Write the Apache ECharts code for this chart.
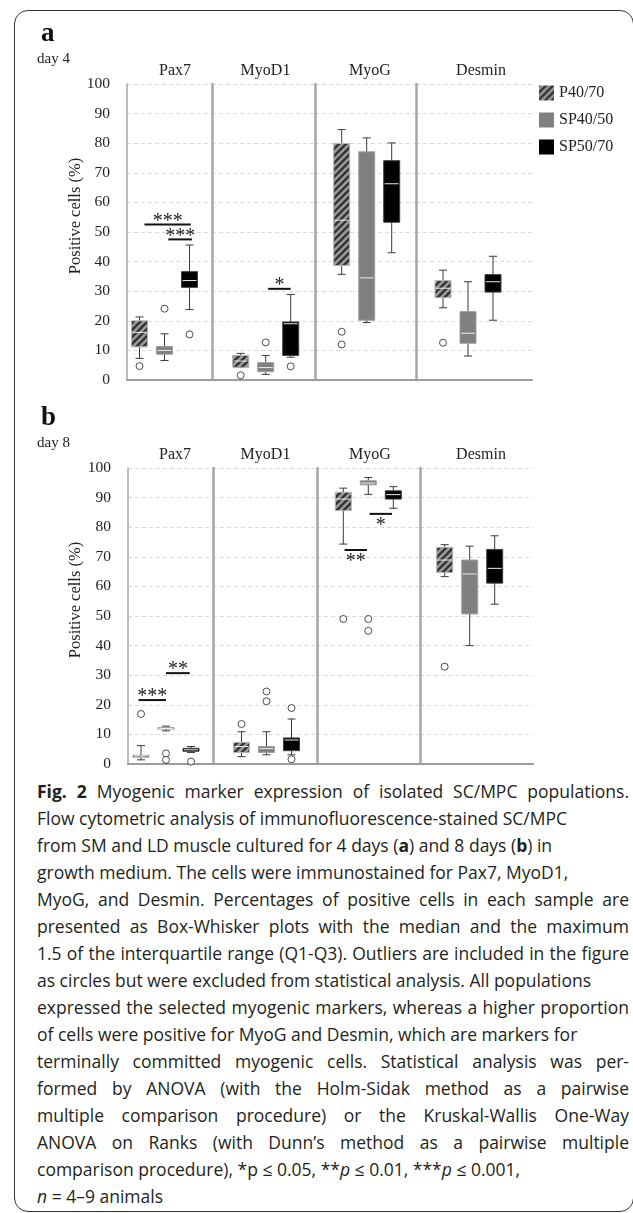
<!DOCTYPE html>
<html>

<head>
    <meta http-equiv="Content-Type" content="text/html; charset=utf-8" />
    <title>Fig. 2</title>
    <style type="text/css">
        * {
            margin: 0;
            padding: 0
        }

        html,
        body {
            width: 633px;
            height: 1213px;
            background: #fff;
            overflow: hidden;
        }

        .frame {
            position: absolute;
            left: 14px;
            top: 10px;
            width: 620px;
            height: 1202px;
            box-sizing: border-box;
            border: 1.5px solid #333;
            border-radius: 14px;
        }

        #chart {
            position: absolute;
            left: 0;
            top: 0;
            width: 633px;
            height: 778px;
        }

        .caption {
            position: absolute;
            left: 37px;
            top: 778px;
            width: 592px;
            font-family: 'Open Sans', sans-serif;
            font-size: 17.5px;
            line-height: 27px;
            color: #231f20;
        }

        .caption div {
            white-space: nowrap;
        }

        .caption .j {
            white-space: normal;
            text-align: justify;
            text-align-last: justify;
        }
    </style>
    <script src="https://cdn.jsdelivr.net/npm/echarts/dist/echarts.min.js"></script>
</head>

<body>
    <div class="frame"></div>
    <div id="chart"></div>
    <div class="caption">
        <div class="j"><b>Fig. 2</b> Myogenic marker expression of isolated SC/MPC populations.</div>
        <div>Flow cytometric analysis of immunofluorescence-stained SC/MPC</div>
        <div>from SM and LD muscle cultured for 4 days (<b>a</b>) and 8 days (<b>b</b>) in</div>
        <div>growth medium. The cells were immunostained for Pax7, MyoD1,</div>
        <div class="j">MyoG, and Desmin. Percentages of positive cells in each sample are</div>
        <div class="j">presented as Box-Whisker plots with the median and the maximum</div>
        <div class="j">1.5 of the interquartile range (Q1-Q3). Outliers are included in the figure</div>
        <div>as circles but were excluded from statistical analysis. All populations</div>
        <div class="j">expressed the selected myogenic markers, whereas a higher proportion</div>
        <div>of cells were positive for MyoG and Desmin, which are markers for</div>
        <div class="j">terminally committed myogenic cells. Statistical analysis was per-</div>
        <div class="j">formed by ANOVA (with the Holm-Sidak method as a pairwise</div>
        <div class="j">multiple comparison procedure) or the Kruskal-Wallis One-Way</div>
        <div class="j">ANOVA on Ranks (with Dunn’s method as a pairwise multiple</div>
        <div>comparison procedure), *p ≤ 0.05, **<i>p</i> ≤ 0.01, ***<i>p</i> ≤ 0.001,</div>
        <div><i>n</i> = 4–9 animals</div>
    </div>
    <script>
        const groups = ['P40/70', 'SP40/50', 'SP50/70'];
        const markers = ['Pax7', 'MyoD1', 'MyoG', 'Desmin'];

        // [min, Q1, median, Q3, max] for P40/70, SP40/50, SP50/70
        const d4Pax7 = [[7.3, 11.2, 16.1, 20.0, 21.3], [6.6, 8.7, 10.0, 11.3, 15.6], [23.8, 31.3, 33.6, 36.6, 45.6]];
        const d4MyoD1 = [[4.3, 4.3, 6.4, 8.3, 9.0], [1.9, 2.8, 4.2, 5.9, 8.3], [7.7, 8.3, 19.0, 19.6, 28.9]];
        const d4MyoG = [[35.7, 38.7, 54.0, 79.9, 84.6], [19.4, 20.2, 34.5, 77.1, 81.8], [43.0, 53.3, 66.3, 74.1, 80.1]];
        const d4Desmin = [[24.4, 27.8, 31.0, 33.6, 37.1], [8.1, 12.4, 15.8, 23.1, 33.2], [20.2, 29.7, 33.2, 35.6, 41.8]];
        const d8Pax7 = [[1.4, 2.2, 2.7, 3.0, 6.2], [11.2, 11.8, 12.0, 12.3, 12.8], [3.9, 4.3, 4.8, 5.3, 5.9]];
        const d8MyoD1 = [[2.5, 3.9, 5.9, 7.3, 10.9], [3.1, 3.9, 5.2, 5.9, 10.9], [3.1, 4.5, 8.1, 8.8, 15.2]];
        const d8MyoG = [[74.3, 85.6, 89.5, 91.8, 93.2], [91.1, 94.3, 94.9, 95.7, 96.8], [86.4, 89.5, 91.0, 92.3, 93.7]];
        const d8Desmin = [[63.3, 64.7, 68.9, 73.2, 74.1], [40.0, 50.7, 64.2, 68.9, 73.6], [54.0, 61.1, 66.1, 72.5, 77.1]];

        // outliers per group
        const d4Pax7Out = [[4.7], [24.1], [15.4]];
        const d4MyoD1Out = [[1.6], [12.7], [4.6]];
        const d4MyoGOut = [[16.3, 12.0], [], []];
        const d4DesminOut = [[12.6], [], []];
        const d8Pax7Out = [[16.9], [3.6, 1.4], [0.8]];
        const d8MyoD1Out = [[13.5], [24.5, 21.2], [18.9, 1.6]];
        const d8MyoGOut = [[49.0], [49.0, 45.0], []];
        const d8DesminOut = [[32.9], [], []];

        // significance bars: [marker, from group, to group, level, stars, below?]
        const d4Sig = [[0, 0.2, 2.05, 52.5, '***', 0], [0, 1.15, 2.1, 47.5, '***', 0], [1, 1.1, 2.0, 30.8, '*', 0]];
        const d8Sig = [[0, -0.1, 1.0, 21.6, '***', 0], [0, 1.0, 1.95, 30.7, '**', 0], [2, 0.05, 0.95, 72.3, '**', 1], [2, 1.05, 1.95, 84.5, '*', 1]];

        const serif = "'Liberation Serif', 'Times New Roman', serif";
        const boxStep = 25;
        const plotH = 296;
        const panels = [
            { top: 84, sep: [127, 212, 315, 416, 532], first: [139.5, 240.7, 341.7, 443], box: [d4Pax7, d4MyoD1, d4MyoG, d4Desmin], out: [d4Pax7Out, d4MyoD1Out, d4MyoGOut, d4DesminOut], sig: d4Sig },
            { top: 468, sep: [128, 213, 317, 420, 533], first: [141, 241.5, 343.3, 444.7], box: [d8Pax7, d8MyoD1, d8MyoG, d8Desmin], out: [d8Pax7Out, d8MyoD1Out, d8MyoGOut, d8DesminOut], sig: d8Sig }
        ];

        // hatched fill for P40/70
        const hatch = document.createElement('canvas');
        hatch.width = 7;
        hatch.height = 7;
        const hc = hatch.getContext('2d');
        hc.fillStyle = '#9a9a9a';
        hc.fillRect(0, 0, 7, 7);
        hc.strokeStyle = '#333';
        hc.lineWidth = 2.4;
        hc.beginPath();
        hc.moveTo(-1, 8); hc.lineTo(8, -1);
        hc.moveTo(-4.5, 4.5); hc.lineTo(4.5, -4.5);
        hc.moveTo(2.5, 11.5); hc.lineTo(11.5, 2.5);
        hc.stroke();

        const fills = [{ image: hatch, repeat: 'repeat' }, '#808080', '#000000'];
        const borders = ['#b5b5b5', '#a0a0a0', '#404040'];

        const drawBox = (params, api) => {
            const k = api.value(0);
            const pt = i => api.coord([k, api.value(i)]);
            const lo = pt(1), q1 = pt(2), md = pt(3), q3 = pt(4), hi = pt(5);
            const cx = lo[0], hw = 8, cw = 4;
            const ws = { stroke: '#3a3a3a', lineWidth: 1 };
            return {
                type: 'group',
                children: [
                    { type: 'line', shape: { x1: cx, y1: lo[1], x2: cx, y2: hi[1] }, style: ws },
                    { type: 'line', shape: { x1: cx - cw, y1: hi[1], x2: cx + cw, y2: hi[1] }, style: ws },
                    { type: 'line', shape: { x1: cx - cw, y1: lo[1], x2: cx + cw, y2: lo[1] }, style: ws },
                    { type: 'rect', shape: { x: cx - hw, y: q3[1], width: hw * 2, height: Math.max(q1[1] - q3[1], 1) }, style: { fill: fills[k], stroke: borders[k], lineWidth: 1 } },
                    { type: 'line', shape: { x1: cx - hw + 1, y1: md[1], x2: cx + hw - 1, y2: md[1] }, style: { stroke: '#ececec', lineWidth: 1 } }
                ]
            };
        };

        const grids = [], xAxes = [], yAxes = [], series = [];
        panels.forEach(p => {
            markers.forEach((m, mi) => {
                const gi = grids.length;
                const l = p.sep[mi], r = p.sep[mi + 1];
                grids.push({ left: l, top: p.top, width: r - l, height: plotH });
                xAxes.push({
                    type: 'value', gridIndex: gi,
                    min: (l - p.first[mi]) / boxStep, max: (r - p.first[mi]) / boxStep,
                    axisLine: { show: true, onZero: false, lineStyle: { color: '#9d9d9d', width: 2 } },
                    axisTick: { show: false }, axisLabel: { show: false }, splitLine: { show: false }
                });
                yAxes.push({
                    type: 'value', gridIndex: gi, min: 0, max: 100, interval: 10,
                    axisLine: { show: true, onZero: false, lineStyle: { color: '#a6a6a6', width: mi === 0 ? 1.5 : 2.5 } },
                    axisTick: { show: false },
                    axisLabel: { show: mi === 0, margin: 17, fontFamily: serif, fontSize: 15.5, color: '#222' },
                    splitLine: { lineStyle: { type: [4, 3], color: '#d9d9d9', width: 1 } }
                });
                groups.forEach((g, k) => {
                    series.push({
                        type: 'custom', name: g, xAxisIndex: gi, yAxisIndex: gi,
                        renderItem: drawBox, encode: { x: 0, y: [1, 2, 3, 4, 5] },
                        itemStyle: { color: k === 1 ? '#808080' : '#000' },
                        data: [[k].concat(p.box[mi][k])], z: 3, silent: true
                    });
                });
                series.push({
                    type: 'scatter', name: 'outlier', xAxisIndex: gi, yAxisIndex: gi,
                    symbol: 'circle', symbolSize: 7, silent: true, z: 4,
                    itemStyle: { color: '#fff', borderColor: '#222', borderWidth: 1 },
                    data: p.out[mi].flatMap((vals, k) => vals.map(v => [k, v]))
                });
                const sigs = p.sig.filter(s => s[0] === mi);
                if (sigs.length) {
                    series.push({
                        type: 'custom', name: 'sig', xAxisIndex: gi, yAxisIndex: gi, silent: true, z: 5,
                        encode: { x: [0, 1], y: 2 },
                        data: sigs.map(s => [s[1], s[2], s[3]]),
                        renderItem: (params, api) => {
                            const s = sigs[params.dataIndex];
                            const a = api.coord([api.value(0), api.value(2)]);
                            const b = api.coord([api.value(1), api.value(2)]);
                            return {
                                type: 'group',
                                children: [
                                    { type: 'line', shape: { x1: a[0], y1: a[1], x2: b[0], y2: b[1] }, style: { stroke: '#111', lineWidth: 2 } },
                                    { type: 'text', x: (a[0] + b[0]) / 2, y: s[5] ? a[1] + 12 : a[1] - 3, style: { text: s[4], font: '20px ' + serif, fill: '#222', align: 'center', verticalAlign: 'middle' } }
                                ]
                            };
                        }
                    });
                }
            });
        });

        const labelX = [175, 265.5, 370, 481];
        const texts = [];
        [['a', 'day 4', 0], ['b', 'day 8', 1]].forEach(([letter, day, pi]) => {
            const top = panels[pi].top;
            texts.push({ type: 'text', x: 41, y: top - 50, style: { text: letter, font: 'bold 27px ' + serif, fill: '#111', verticalAlign: 'middle' } });
            texts.push({ type: 'text', x: 37, y: top - 25, style: { text: day, font: '15px ' + serif, fill: '#222', verticalAlign: 'middle' } });
            markers.forEach((m, mi) => {
                texts.push({ type: 'text', x: labelX[mi], y: top - 13, style: { text: m, font: '16px ' + serif, fill: '#222', align: 'center', verticalAlign: 'middle' } });
            });
            texts.push({ type: 'text', x: 76, y: top + 132, rotation: Math.PI / 2, style: { text: 'Positive cells (%)', font: '16.5px ' + serif, fill: '#222', align: 'center', verticalAlign: 'middle' } });
        });

        const chart = echarts.init(document.getElementById('chart'));
        chart.setOption({
            animation: false,
            grid: grids,
            xAxis: xAxes,
            yAxis: yAxes,
            legend: {
                data: groups.map((g, k) => ({ name: g, icon: 'rect', itemStyle: { color: fills[k], borderWidth: 0 } })),
                orient: 'vertical', left: 534, top: 80, itemWidth: 15, itemHeight: 15, itemGap: 11,
                selectedMode: false,
                textStyle: { fontFamily: serif, fontSize: 16, color: '#222' }
            },
            graphic: texts,
            series: series
        });
    </script>
</body>

</html>
